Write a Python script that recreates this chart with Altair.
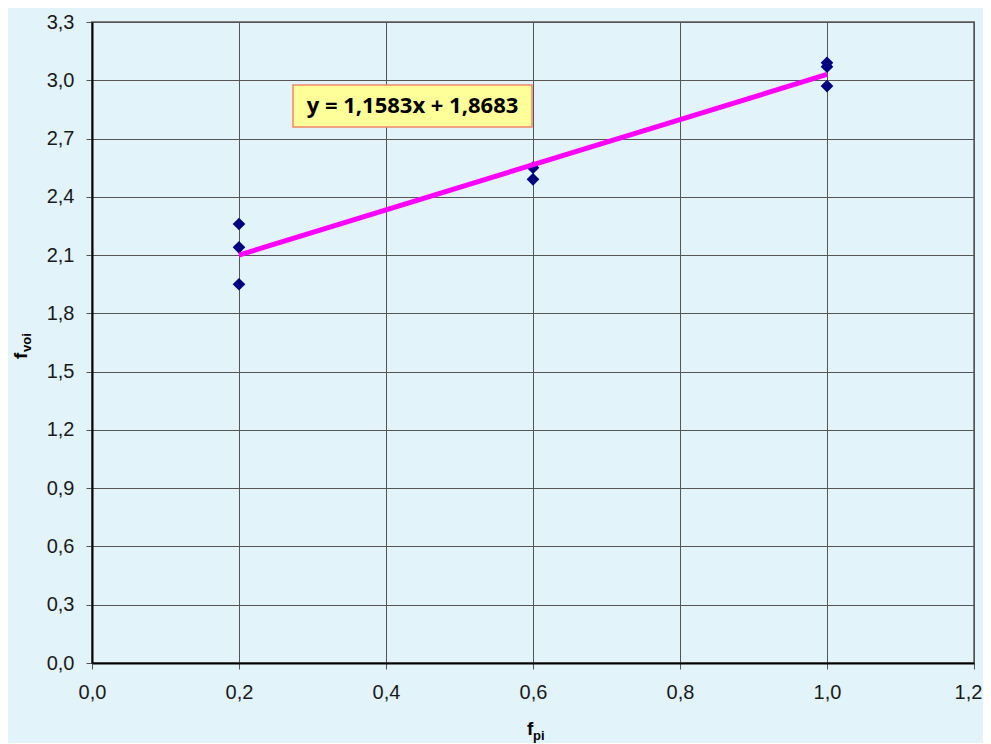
import altair as alt
import pandas as pd

# data
pts_x = [0.2, 0.2, 0.2, 0.6, 0.6, 1.0, 1.0, 1.0]
pts_y = [2.26, 2.14, 1.95, 2.55, 2.49, 3.09, 3.07, 2.97]
trend_x = [0.2, 1.0]
trend_y = [2.10, 3.03]
equation = "y = 1,1583x + 1,8683"

pts = pd.DataFrame({"x": pts_x, "y": pts_y})
trend = pd.DataFrame({"x": trend_x, "y": trend_y})

W, H = 882, 641
xs = alt.Scale(domain=[0, 1.2], nice=False, zero=False)
ys = alt.Scale(domain=[0, 3.3], nice=False, zero=False)

xaxis = alt.Axis(values=[0, 0.2, 0.4, 0.6, 0.8, 1.0, 1.2], title=None,
                 labelExpr="replace(format(datum.value, '.1f'), '.', ',')",
                 labelFlush=False, labelOverlap=False,
                 labelOffset=alt.ExprRef(expr="datum.value >= 1.19 ? -6 : 0"),
                 grid=True, gridColor="#555555", gridWidth=1,
                 domainColor="#000000", domainWidth=2,
                 tickColor="#555555", tickSize=6, labelPadding=13,
                 labelFont="Liberation Sans", labelFontSize=20, labelColor="#1a1a1a")
yaxis = alt.Axis(values=[round(0.3 * i, 1) for i in range(12)], title=None,
                 labelExpr="replace(format(datum.value, '.1f'), '.', ',')",
                 labelFlush=False, labelOverlap=False,
                 grid=True, gridColor="#555555", gridWidth=1,
                 domainColor="#000000", domainWidth=2,
                 tickColor="#555555", tickSize=6, labelPadding=12,
                 labelFont="Liberation Sans", labelFontSize=20, labelColor="#1a1a1a")

base_pts = alt.Chart(pts).mark_point(shape="diamond", filled=True, color="#000080",
                                     size=160, opacity=1).encode(
    x=alt.X("x:Q", scale=xs, axis=xaxis),
    y=alt.Y("y:Q", scale=ys, axis=yaxis),
)

line = alt.Chart(trend).mark_line(color="#FF00FF", strokeWidth=5).encode(
    x=alt.X("x:Q", scale=xs), y=alt.Y("y:Q", scale=ys))

box_df = pd.DataFrame({"t": [equation]})
box = alt.Chart(box_df).mark_rect(fill="#FFFF99", stroke="#F4866A", strokeWidth=1.5).encode(
    x=alt.value(201), x2=alt.value(440), y=alt.value(63), y2=alt.value(105))
box_text = alt.Chart(box_df).mark_text(font="Open Sans", fontWeight="bold", fontSize=22,
                                       color="#000000", align="center", baseline="middle").encode(
    x=alt.value(320.5), y=alt.value(84), text="t:N")

ttl = pd.DataFrame({"a": ["f"], "b": ["pi"], "c": ["voi"]})
xt1 = alt.Chart(ttl).mark_text(font="Liberation Sans", fontWeight="bold", fontSize=19,
                               align="left", baseline="alphabetic", color="#000000").encode(
    x=alt.value(435), y=alt.value(713), text="a:N")
xt2 = alt.Chart(ttl).mark_text(font="Liberation Sans", fontWeight="bold", fontSize=13,
                               align="left", baseline="alphabetic", color="#000000").encode(
    x=alt.value(441), y=alt.value(718), text="b:N")
yt1 = alt.Chart(ttl).mark_text(font="Liberation Sans", fontWeight="bold", fontSize=19,
                               align="left", baseline="alphabetic", angle=270, color="#000000").encode(
    x=alt.value(-65), y=alt.value(337), text="a:N")
yt2 = alt.Chart(ttl).mark_text(font="Liberation Sans", fontWeight="bold", fontSize=13,
                               align="left", baseline="alphabetic", angle=270, color="#000000").encode(
    x=alt.value(-61), y=alt.value(330), text="c:N")

chart = alt.layer(base_pts, line, box, box_text, xt1, xt2, yt1, yt2).properties(
    width=W, height=H,
    autosize=alt.AutoSizeParams(type="none"),
    padding={"left": 84, "top": 14, "right": 9, "bottom": 80},
    background="#E2F3FA",
).configure_view(stroke="#808080", strokeWidth=2, fill="#E2F3FA")

chart.save("out.html", embed_options={"renderer": "svg", "actions": False})
